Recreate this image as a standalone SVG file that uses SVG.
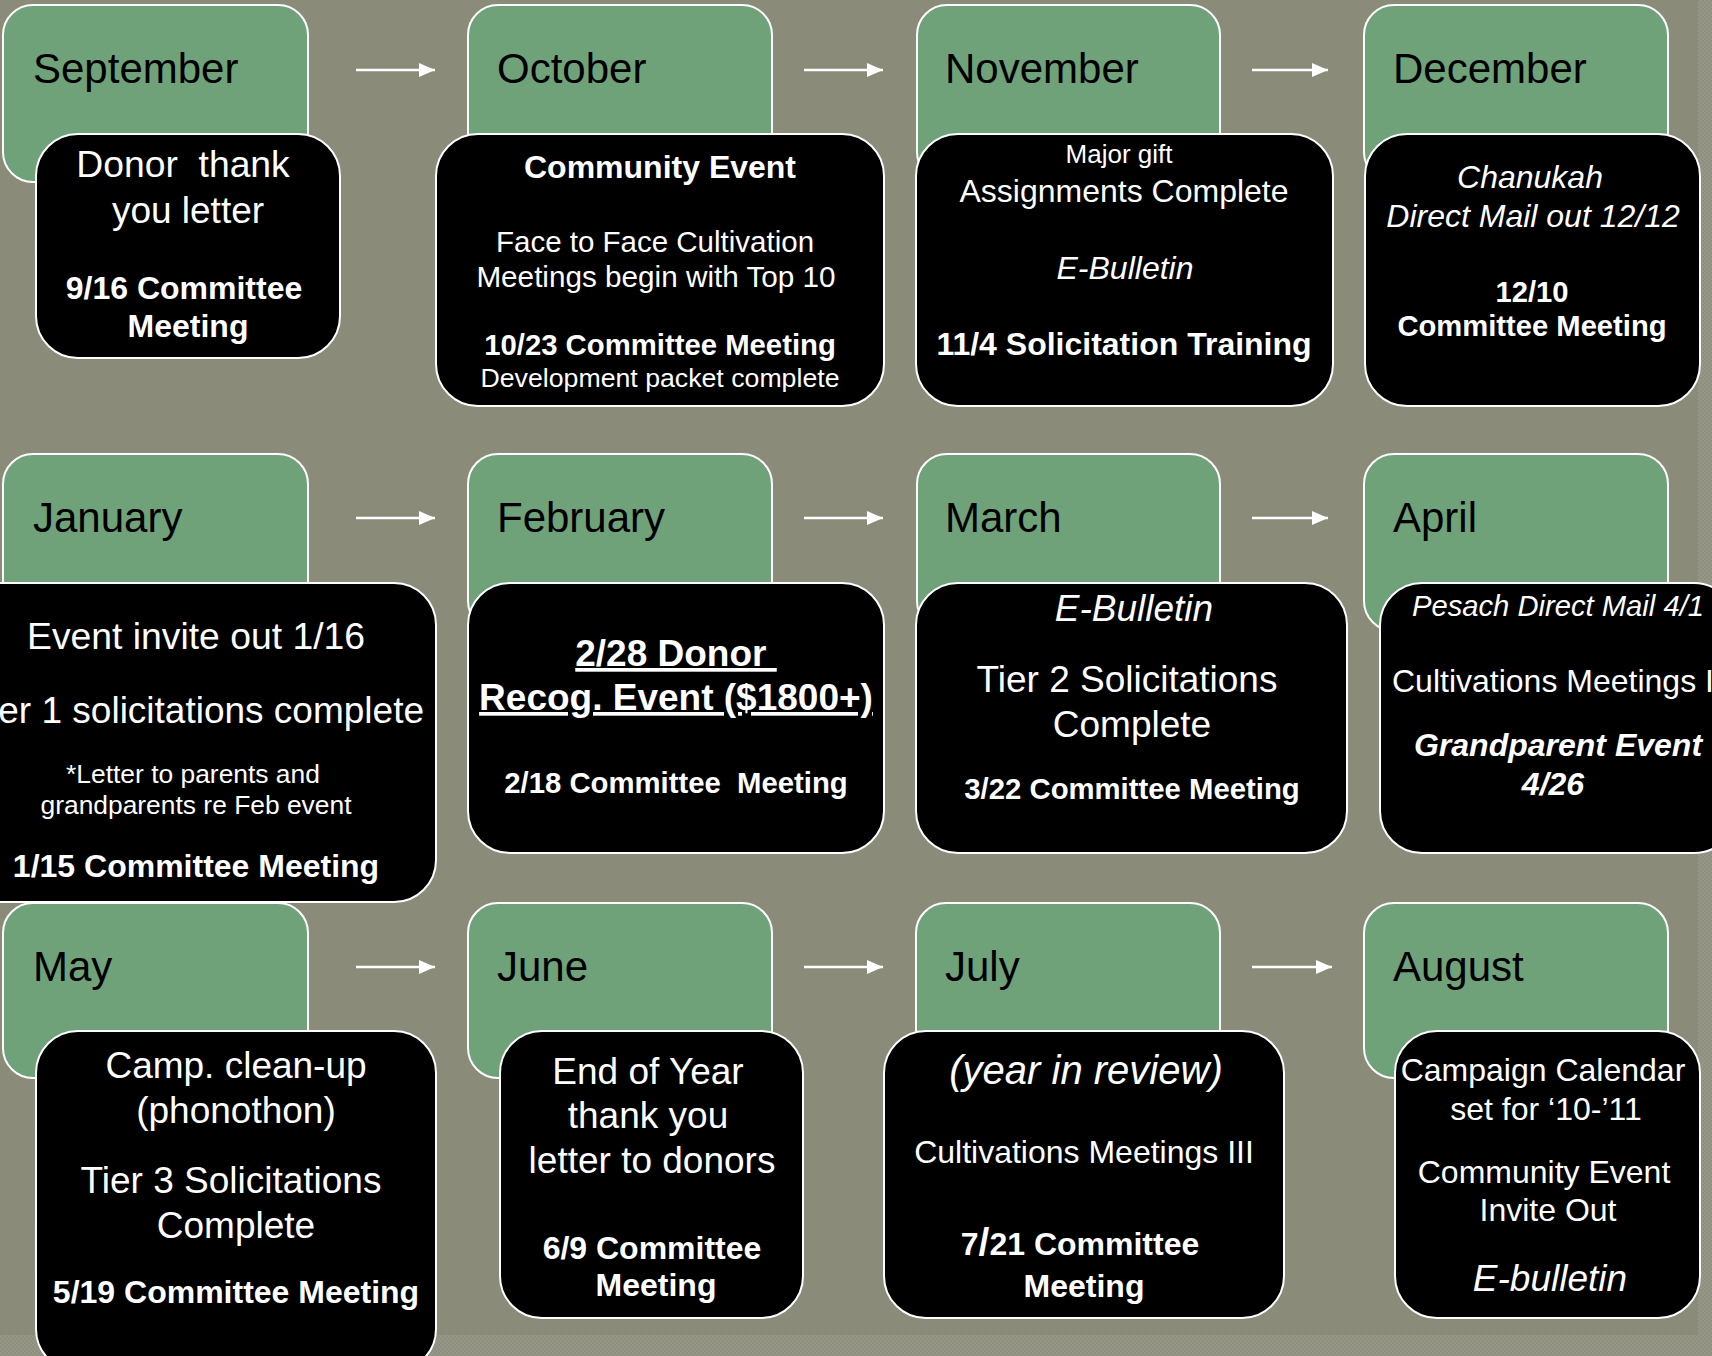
<svg xmlns="http://www.w3.org/2000/svg" width="1712" height="1356" viewBox="0 0 1712 1356">
<defs>
<style>
.month{fill:#70a27a;stroke:#ffffff;stroke-width:2}
.card{fill:#000000;stroke:#ffffff;stroke-width:2}
.mt{font-family:"Liberation Sans",Arial,sans-serif;font-size:42px;fill:#000000}
.t{font-family:"Liberation Sans",Arial,sans-serif;fill:#ffffff;text-anchor:middle}
.b{font-weight:bold}
.i{font-style:italic}
.u{text-decoration:underline}
.pre{white-space:pre}
.arrow{stroke:#ffffff;stroke-width:2.5;fill:none;marker-end:url(#ah)}
</style>
<marker id="ah" markerUnits="userSpaceOnUse" markerWidth="16" markerHeight="14" refX="16" refY="7" orient="auto">
<path d="M0,0 L16,7 L0,14 z" fill="#ffffff"/>
</marker>
<pattern id="tex" width="4" height="4" patternUnits="userSpaceOnUse">
<rect width="4" height="4" fill="#8e8f7e"/>
<rect width="2" height="2" fill="#969786"/>
<rect x="2" y="2" width="2" height="2" fill="#969786"/>
</pattern>
</defs>
<rect x="0" y="0" width="1712" height="1356" fill="#8a8b79"/>
<rect x="0" y="1335" width="1712" height="21" fill="url(#tex)"/>
<rect x="1698" y="0" width="14" height="1356" fill="url(#tex)"/>

<g id="connectors">
<line class="arrow" x1="356" y1="70" x2="435" y2="70"/>
<line class="arrow" x1="804" y1="70" x2="883" y2="70"/>
<line class="arrow" x1="1252" y1="70" x2="1328" y2="70"/>
<line class="arrow" x1="356" y1="518" x2="435" y2="518"/>
<line class="arrow" x1="804" y1="518" x2="883" y2="518"/>
<line class="arrow" x1="1252" y1="518" x2="1328" y2="518"/>
<line class="arrow" x1="356" y1="967" x2="435" y2="967"/>
<line class="arrow" x1="804" y1="967" x2="883" y2="967"/>
<line class="arrow" x1="1252" y1="967" x2="1332" y2="967"/>
</g>

<g id="september">
<rect class="month" x="3" y="5" width="305" height="177" rx="30"/>
<rect class="card" x="36" y="134" width="304" height="224" rx="42"/>
<text class="mt" x="33" y="83">September</text>
<text class="t pre" x="183" y="177" font-size="37.3">Donor  thank</text>
<text class="t" x="188" y="223" font-size="37">you letter</text>
<text class="t b" x="184" y="299" font-size="32">9/16 Committee</text>
<text class="t b" x="188" y="337" font-size="32">Meeting</text>
</g>

<g id="october">
<rect class="month" x="468" y="5" width="304" height="177" rx="30"/>
<rect class="card" x="436" y="134" width="448" height="272" rx="42"/>
<text class="mt" x="497" y="83">October</text>
<text class="t b" x="660" y="178" font-size="32">Community Event</text>
<text class="t" x="655" y="252" font-size="29.5">Face to Face Cultivation</text>
<text class="t" x="656" y="287" font-size="29.7">Meetings begin with Top 10</text>
<text class="t b" x="660" y="355" font-size="29.3">10/23 Committee Meeting</text>
<text class="t" x="660" y="387" font-size="26.7">Development packet complete</text>
</g>

<g id="november">
<rect class="month" x="917" y="5" width="303" height="177" rx="30"/>
<rect class="card" x="916" y="134" width="417" height="272" rx="42"/>
<text class="mt" x="945" y="83">November</text>
<text class="t" x="1119" y="163" font-size="26">Major gift</text>
<text class="t" x="1124" y="202" font-size="32">Assignments Complete</text>
<text class="t i" x="1125" y="279" font-size="32">E-Bulletin</text>
<text class="t b" x="1124" y="355" font-size="32">11/4 Solicitation Training</text>
</g>

<g id="december">
<rect class="month" x="1364" y="5" width="304" height="177" rx="30"/>
<rect class="card" x="1365" y="134" width="335" height="272" rx="42"/>
<text class="mt" x="1393" y="83">December</text>
<text class="t i" x="1530" y="188" font-size="32">Chanukah</text>
<text class="t i" x="1533" y="227" font-size="32">Direct Mail out 12/12</text>
<text class="t b" x="1532" y="302" font-size="29.2">12/10</text>
<text class="t b" x="1532" y="336" font-size="29.2">Committee Meeting</text>
</g>

<g id="january">
<rect class="month" x="3" y="454" width="305" height="177" rx="30"/>
<rect class="card" x="-44" y="583" width="480" height="319" rx="42"/>
<text class="mt" x="33" y="532">January</text>
<text class="t" x="196" y="649" font-size="37.3">Event invite out 1/16</text>
<text class="t" x="424" y="723" font-size="37" style="text-anchor:end">er 1 solicitations complete</text>
<text class="t" x="193" y="783" font-size="26.4">*Letter to parents and</text>
<text class="t" x="196" y="814" font-size="26.4">grandparents re Feb event</text>
<text class="t b" x="196" y="877" font-size="32">1/15 Committee Meeting</text>
</g>

<g id="february">
<rect class="month" x="468" y="454" width="304" height="177" rx="30"/>
<rect class="card" x="468" y="583" width="416" height="270" rx="42"/>
<text class="mt" x="497" y="532">February</text>
<text class="t b u pre" x="676" y="666" font-size="37">2/28 Donor </text>
<text class="t b u" x="676" y="710" font-size="37">Recog. Event ($1800+)</text>
<text class="t b pre" x="676" y="793" font-size="29.3">2/18 Committee  Meeting</text>
</g>

<g id="march">
<rect class="month" x="917" y="454" width="303" height="177" rx="30"/>
<rect class="card" x="916" y="583" width="431" height="270" rx="42"/>
<text class="mt" x="945" y="532">March</text>
<text class="t i" x="1134" y="621" font-size="37">E-Bulletin</text>
<text class="t" x="1127" y="692" font-size="37">Tier 2 Solicitations</text>
<text class="t" x="1132" y="737" font-size="37">Complete</text>
<text class="t b" x="1132" y="799" font-size="29.3">3/22 Committee Meeting</text>
</g>

<g id="april">
<rect class="month" x="1364" y="454" width="304" height="177" rx="30"/>
<rect class="card" x="1380" y="583" width="356" height="270" rx="42"/>
<text class="mt" x="1393" y="532">April</text>
<text class="t i" x="1558" y="616" font-size="29.2">Pesach Direct Mail 4/1</text>
<text class="t" x="1392" y="692" font-size="32" style="text-anchor:start">Cultivations Meetings I</text>
<text class="t b i" x="1558" y="756" font-size="32">Grandparent Event</text>
<text class="t b i" x="1553" y="795" font-size="32">4/26</text>
</g>

<g id="may">
<rect class="month" x="3" y="903" width="305" height="175" rx="30"/>
<rect class="card" x="36" y="1031" width="400" height="340" rx="42"/>
<text class="mt" x="33" y="981">May</text>
<text class="t" x="236" y="1078" font-size="37">Camp. clean-up</text>
<text class="t" x="236" y="1123" font-size="37">(phonothon)</text>
<text class="t" x="231" y="1193" font-size="37">Tier 3 Solicitations</text>
<text class="t" x="236" y="1238" font-size="37">Complete</text>
<text class="t b" x="236" y="1303" font-size="32">5/19 Committee Meeting</text>
</g>

<g id="june">
<rect class="month" x="468" y="903" width="304" height="175" rx="30"/>
<rect class="card" x="500" y="1031" width="303" height="287" rx="42"/>
<text class="mt" x="497" y="981">June</text>
<text class="t" x="648" y="1084" font-size="37">End of Year</text>
<text class="t" x="648" y="1128" font-size="37">thank you</text>
<text class="t" x="652" y="1173" font-size="37">letter to donors</text>
<text class="t b" x="652" y="1259" font-size="32">6/9 Committee</text>
<text class="t b" x="656" y="1296" font-size="32">Meeting</text>
</g>

<g id="july">
<rect class="month" x="916" y="903" width="304" height="175" rx="30"/>
<rect class="card" x="884" y="1031" width="400" height="287" rx="42"/>
<text class="mt" x="945" y="981">July</text>
<text class="t i" x="1086" y="1084" font-size="40">(year in review)</text>
<text class="t" x="1084" y="1163" font-size="32">Cultivations Meetings III</text>
<text class="t b" x="1080" y="1255" font-size="32">7<tspan font-size="39">/</tspan>21 Committee</text>
<text class="t b" x="1084" y="1297" font-size="32">Meeting</text>
</g>

<g id="august">
<rect class="month" x="1364" y="903" width="304" height="175" rx="30"/>
<rect class="card" x="1395" y="1031" width="305" height="287" rx="42"/>
<text class="mt" x="1393" y="981">August</text>
<text class="t" x="1543" y="1081" font-size="32">Campaign Calendar</text>
<text class="t" x="1546" y="1120" font-size="32">set for ‘10-’11</text>
<text class="t" x="1544" y="1183" font-size="32">Community Event</text>
<text class="t" x="1548" y="1221" font-size="32">Invite Out</text>
<text class="t i" x="1550" y="1291" font-size="37">E-bulletin</text>
</g>
</svg>
